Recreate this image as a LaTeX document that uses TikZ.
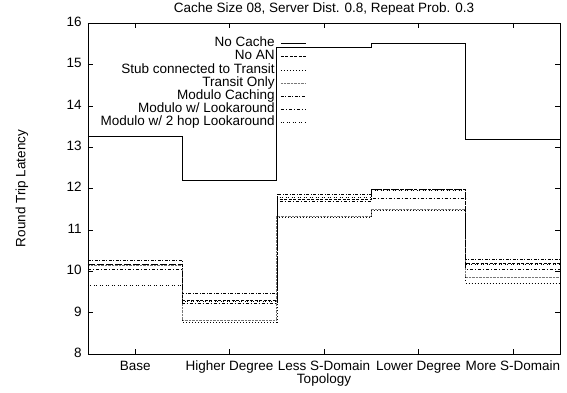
\documentclass[tikz,border=0pt]{standalone}
\usepackage{fontspec}
\setmainfont{Liberation Sans}
\usepackage{tikz}
\definecolor{silver}{RGB}{120,120,120}

\tikzset{
  nocache/.style    ={black,  line width=0.7pt},
  noan/.style       ={black,  line width=0.5pt, dash pattern=on 3pt off 1.5pt},
  stub/.style       ={black,  line width=0.5pt, dash pattern=on 1pt off 2pt},
  transit/.style    ={silver, line width=0.6pt, dash pattern=on 0.6pt off 0.8pt},
  modulo/.style     ={black,  line width=0.5pt, dash pattern=on 3pt off 1.5pt on 1pt off 1.5pt},
  lookaround/.style ={black,  line width=0.5pt, dash pattern=on 3pt off 2pt on 1pt off 2pt},
  twohop/.style     ={black,  line width=0.5pt, dash pattern=on 1pt off 1pt on 1pt off 3pt},
  ticklabel/.style  ={text height=1.6ex, text depth=0.3ex, inner sep=0pt},
}

% one step curve over the five topologies
\newcommand{\histeps}[6]{%
  \draw[#1] (-0.5,#2) -- (0.5,#2) -- (0.5,#3) -- (1.5,#3) -- (1.5,#4) -- (2.5,#4)
            -- (2.5,#5) -- (3.5,#5) -- (3.5,#6) -- (4.5,#6);}

% key entry: right aligned label, then a short sample of the line
\newcommand{\keyentry}[4]{%
  \node[anchor=east, inner sep=0pt, text height=1.6ex, text depth=0.3ex] (#1) at (1.48,#3) {#4};
  \draw[#2] ([xshift=6pt]#1.east) -- ++(25pt,0);}

\begin{document}
\begin{tikzpicture}[x=94.4pt, y=41.375pt, font=\fontsize{13.5}{16}\selectfont]
            \useasboundingbox (-1.432,7.082) rectangle (4.574,16.556);

            % data
            \histeps{nocache}   {13.25}{12.20}{15.40}{15.50}{13.20}
            \histeps{noan}      {10.18}{ 9.31}{11.75}{11.97}{10.20}
            \histeps{stub}      {10.16}{ 8.76}{11.30}{11.48}{ 9.72}
            \histeps{transit}   {10.14}{ 8.82}{11.34}{11.50}{ 9.85}
            \histeps{modulo}    {10.27}{ 9.48}{11.87}{11.97}{10.29}
            \histeps{lookaround}{10.05}{ 9.22}{11.68}{11.76}{10.06}
            \histeps{twohop}    { 9.67}{ 9.27}{11.78}{11.95}{10.18}

            % frame and ticks
            \draw[line width=0.6pt] (-0.5,8) rectangle (4.5,16);
            \foreach \v in {8,...,16} {
                \draw (-0.5,\v) -- ++(0.053,0);
                \draw ( 4.5,\v) -- ++(-0.053,0);
                \node[anchor=east, ticklabel] (ytick\v) at (-0.565,\v) {\v};
            }
            \foreach \topo [count=\i from 0] in {Base, Higher Degree, Less S-Domain, Lower Degree, More S-Domain} {
                \draw (\i, 8) -- ++(0, 0.121);
                \draw (\i,16) -- ++(0,-0.121);
                \node[ticklabel] (xtick\i) at (\i,7.686) {\topo};
            }

            % labels
            \node[ticklabel] (title)  at (2.0,16.338) {Cache Size 08, Server Dist. 0.8, Repeat Prob. 0.3};
            \node[ticklabel] (xlabel) at (2.0, 7.37)  {Topology};
            \node[ticklabel, rotate=90] (ylabel) at (-1.2,12) {Round Trip Latency};

            % key
            \keyentry{knocache}   {nocache}   {15.517}{No Cache}
            \keyentry{knoan}      {noan}      {15.190}{No AN}
            \keyentry{kstub}      {stub}      {14.864}{Stub connected to Transit}
            \keyentry{ktransit}   {transit}   {14.550}{Transit Only}
            \keyentry{kmodulo}    {modulo}    {14.236}{Modulo Caching\ }
            \keyentry{klookaround}{lookaround}{13.909}{Modulo w/ Lookaround}
            \keyentry{ktwohop}    {twohop}    {13.595}{Modulo w/ 2 hop Lookaround}
        \end{tikzpicture}
\end{document}
